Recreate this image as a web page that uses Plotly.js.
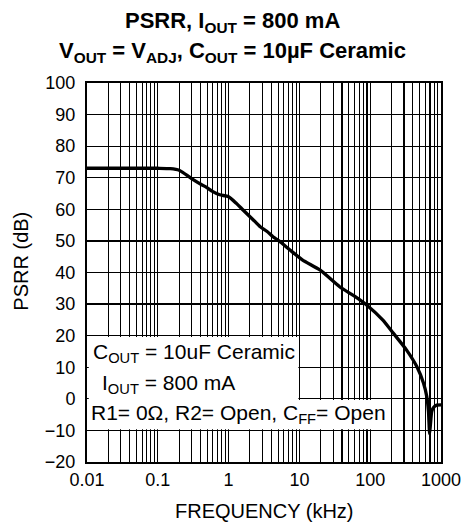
<!DOCTYPE html>
<html>
<head>
<meta charset="utf-8">
<script src="https://cdn.plot.ly/plotly-3.0.1.min.js"></script>
<style>html,body{margin:0;padding:0;background:#fff;}#chart{width:465px;height:526px;}</style>
</head>
<body>
<div id="chart"></div>
<script>
// Frequency (kHz) and PSRR (dB)
const freqKHz = [0.01, 0.02, 0.05, 0.1, 0.15, 0.2, 0.25, 0.32, 0.4, 0.47, 0.6, 0.75, 1.0, 1.3, 1.6, 2.2, 2.8, 3.5, 4.2, 5.5, 7.3, 11, 19.5, 37, 60, 89, 150, 210, 325, 455, 565, 630, 665, 690, 710, 740, 780, 870, 1000];
const psrrDB  = [73, 73, 73, 73, 72.9, 72.4, 71.0, 69.3, 68.0, 67.2, 65.6, 64.6, 64.0, 61.8, 59.8, 56.8, 54.5, 53.0, 51.4, 49.5, 47.2, 44.0, 40.8, 35.5, 32.5, 29.7, 25.0, 20.9, 15.5, 10.2, 5.0, 0.7, -4.0, -11.0, -8.0, -4.0, -2.8, -2.0, -1.9];

const xTickVals = [0.01, 0.1, 1, 10, 100, 1000];
const xTickText = ['0.01', '0.1', '1', '10', '100', '1000'];
const yTickVals = [-20, -10, 0, 10, 20, 30, 40, 50, 60, 70, 80, 90, 100];

const titleLine1 = '<b>PSRR, I<sub>OUT</sub> = 800 mA</b>';
const titleLine2 = '<b>V<sub>OUT</sub> = V<sub>ADJ</sub>, C<sub>OUT</sub> = 10µF Ceramic</b>';
const noteLines = ['C<sub>OUT</sub> = 10uF Ceramic', 'I<sub>OUT</sub> = 800 mA', 'R1= 0Ω, R2= Open, C<sub>FF</sub>= Open'];

const minorVals = [];
for (let e = -2; e < 3; e++) for (let m = 2; m <= 9; m++) minorVals.push(m * Math.pow(10, e));

const FONT = 'Liberation Sans, Arial, Helvetica, sans-serif';

const trace = {
  x: freqKHz, y: psrrDB, type: 'scatter', mode: 'lines',
  line: {color: 'black', width: 3.3, shape: 'spline', smoothing: 0.6},
  hoverinfo: 'skip'
};

const layout = {
  width: 465, height: 526,
  margin: {l: 87, r: 24, t: 83, b: 64},
  paper_bgcolor: 'white', plot_bgcolor: 'white',
  font: {family: FONT, color: 'black', size: 18},
  showlegend: false,
  xaxis: {
    type: 'log', range: [-2, 3],
    tickmode: 'array', tickvals: xTickVals, ticktext: xTickText,
    showgrid: true, gridcolor: 'black', gridwidth: 1.2,
    minor: {tickmode: 'array', tickvals: minorVals, showgrid: true, gridcolor: 'black', gridwidth: 1.1, ticks: ''},
    showline: true, linecolor: 'black', linewidth: 2, mirror: true,
    ticks: '', zeroline: false,
    tickfont: {size: 18}
  },
  yaxis: {
    range: [-20, 100],
    tickmode: 'array', tickvals: yTickVals,
    showgrid: true, gridcolor: 'black', gridwidth: 1.2,
    showline: true, linecolor: 'black', linewidth: 2, mirror: true,
    ticks: '', zeroline: false,
    ticklabelstandoff: 6,
    tickfont: {size: 18}
  },
  shapes: [
    {type: 'rect', xref: 'paper', yref: 'y', x0: 0.005, x1: 0.597, y0: -0.5, y1: 19.6,
     fillcolor: 'white', line: {width: 0}, layer: 'above'},
    {type: 'rect', xref: 'paper', yref: 'y', x0: 0.005, x1: 0.842, y0: -9.6, y1: -0.4,
     fillcolor: 'white', line: {width: 0}, layer: 'above'}
  ],
  annotations: [
    {xref: 'paper', yref: 'paper', x: 0.41, y: 1.16, xanchor: 'center', yanchor: 'middle', showarrow: false,
     text: titleLine1, font: {size: 22}},
    {xref: 'paper', yref: 'paper', x: 0.41, y: 1.083, xanchor: 'center', yanchor: 'middle', showarrow: false,
     text: titleLine2, font: {size: 22}},
    {xref: 'paper', yref: 'paper', x: 0.5, y: -0.128, xanchor: 'center', yanchor: 'middle', showarrow: false,
     text: 'FREQUENCY (kHz)', font: {size: 20}},
    {xref: 'paper', yref: 'paper', x: -0.185, y: 0.53, xanchor: 'center', yanchor: 'middle', showarrow: false,
     text: 'PSRR (dB)', textangle: -90, font: {size: 20}},
    {xref: 'paper', yref: 'y', x: 0.012, y: 14.5, xanchor: 'left', yanchor: 'middle', showarrow: false,
     text: noteLines[0], font: {size: 21}},
    {xref: 'paper', yref: 'y', x: 0.038, y: 4.8, xanchor: 'left', yanchor: 'middle', showarrow: false,
     text: noteLines[1], font: {size: 21}},
    {xref: 'paper', yref: 'y', x: 0.006, y: -4.8, xanchor: 'left', yanchor: 'middle', showarrow: false,
     text: noteLines[2], font: {size: 21}}
  ]
};

Plotly.newPlot('chart', [trace], layout, {displayModeBar: false, staticPlot: true});
</script>
</body>
</html>
